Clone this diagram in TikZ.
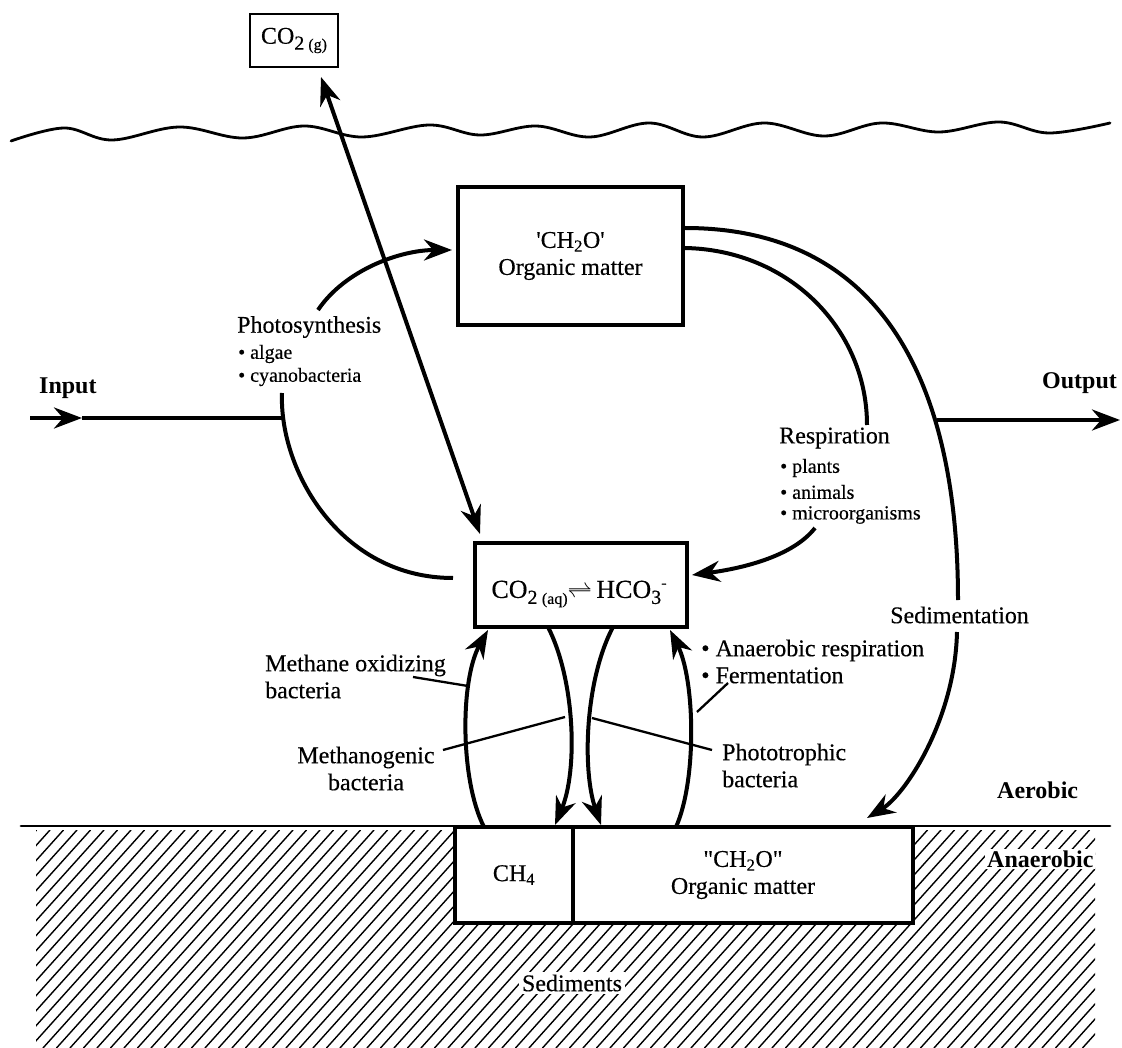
\documentclass[tikz,border=0pt]{standalone}
\usepackage{fontspec}
\setmainfont{Liberation Serif}[Ligatures=TeXOff,UprightFeatures={FakeBold=0.35}]
\usetikzlibrary{arrows.meta}
% lowered chemical subscripts: index digit and phase mark
\newcommand\subs[1]{\raisebox{-6pt}{\fontsize{20}{20}\selectfont #1}}
\newcommand\subp[1]{\raisebox{-6pt}{\fontsize{16}{16}\selectfont #1}}
\newcommand\supm{\raisebox{10pt}{\fontsize{16}{16}\selectfont -}}
\begin{document}
\begin{tikzpicture}[x=1pt,y=-1pt,
  >={Stealth[length=28pt,width=21pt,inset=9pt]},
  every node/.style={inner sep=0pt,font=\fontsize{24}{27}\selectfont},
  lbl/.style={anchor=west,align=left},
  smalllbl/.style={anchor=west,align=left,font=\fontsize{20}{23.5}\selectfont},
  boldlbl/.style={anchor=west,font=\fontsize{24}{27}\selectfont\bfseries},
  box/.style={draw,line width=3.4pt,fill=white,align=center},
  flow/.style={line width=4pt},
  leader/.style={line width=2.3pt},
  hatchline/.style={line width=1.4pt},
  surface/.style={line width=2.8pt,line cap=round},
]
\useasboundingbox (0,0) rectangle (1122,1048);

% sediment hatching below the aerobic/anaerobic boundary
\begin{scope}
  \clip (36,830) rectangle (1095,1048);
  \foreach \x in {-200,-186.5,...,1100}
    \draw[hatchline] (\x,1048) -- ++(196,-218);
\end{scope}
\draw[surface] (21,826) -- (1110,826);

% water surface
\draw[surface] plot[smooth,tension=0.6] coordinates {
  (11,141) (64,128) (112,140) (179,127) (243,138) (304,126) (362,137)
  (429,125) (480,135) (536,126) (590,137) (649,123) (703,137) (764,123)
  (824,136) (881,123) (939,132) (999,122) (1049,133) (1110,123)};

% boxes
\node[box,line width=2.8pt,minimum width=88pt,minimum height=53pt] (gas) at (294,40.5)
  {CO\subs{2}\,\subp{(g)}};
\node[box,minimum width=225pt,minimum height=138pt] (org) at (570.5,256)
  {'CH\textsubscript{2}O'\\Organic matter};
\node[box,minimum width=212pt,minimum height=84pt] (aq) at (581,585) {};
\node[font=\fontsize{26}{28}\selectfont] (aqtext) at (579,594)
  {CO\subs{2}\,\subp{(aq)}$\rightleftharpoons$\,HCO\subs{3}\supm};
\node[box,minimum width=118pt,minimum height=96pt] (ch4) at (514,875) {CH\textsubscript{4}};
\node[box,minimum width=340pt,minimum height=96pt] (sedorg) at (743,875)
  {"CH\textsubscript{2}O"\\Organic matter};

% labels
\node[lbl] (photo) at (237,327) {Photosynthesis};
\node[smalllbl] (algae) at (238,354) {\textbullet\ algae};
\node[smalllbl] (cyano) at (238,377) {\textbullet\ cyanobacteria};
\node[boldlbl] (input) at (39,388) {Input};
\node[boldlbl] (output) at (1042,383) {Output};
\node[lbl] (resp) at (779,438) {Respiration};
\node[smalllbl] (plants) at (780,468) {\textbullet\ plants};
\node[smalllbl] (animals) at (780,492) {\textbullet\ animals};
\node[smalllbl] (micro) at (780,515) {\textbullet\ microorganisms};
\node[lbl] (sedim) at (890,615) {Sedimentation};
\node[lbl] (anaer) at (701,661.5) {\textbullet\ Anaerobic respiration\\\textbullet\ Fermentation};
\node[lbl] (mox) at (265,676.5) {Methane oxidizing\\bacteria};
\node[align=center] (mgen) at (366,768.5) {Methanogenic\\bacteria};
\node[lbl] (ptro) at (722,765.5) {Phototrophic\\bacteria};
\node[boldlbl] (aerobic) at (997,790) {Aerobic};
\node[boldlbl,fill=white,inner sep=2pt] (anaerobic) at (985,859) {Anaerobic};
\node[fill=white,inner sep=3pt] (sediments) at (572,983) {Sediments};

% gas exchange across the surface
\coordinate (gtip) at (321,77);
\coordinate (atip) at (480,534);
\draw[flow,<->] (gtip) -- (atip);

% photosynthesis loop
\coordinate (ps0) at (453,578);
\coordinate (ps1) at (282,393);
\coordinate (ps2) at (318,310);
\coordinate (ps3) at (452,250);
\draw[flow] (ps0) .. controls (340,578) and (279,470) .. (ps1);
\draw[flow,->] (ps2) .. controls (345,270) and (400,250) .. (ps3);

% input and output
\coordinate (in0) at (30,418);
\coordinate (inA) at (82,418);
\coordinate (in1) at (282,418);
\draw[flow,->] (in0) -- (inA);
\draw[flow] (inA) -- (in1);
\coordinate (out0) at (937,420);
\coordinate (out1) at (1120,420);
\draw[flow,->] (out0) -- (out1);

% respiration loop
\coordinate (rs0) at (685,248);
\coordinate (rs1) at (867,425);
\coordinate (rs2) at (815,528);
\coordinate (rs3) at (692,575);
\draw[flow] (rs0) .. controls (790,250) and (867,330) .. (rs1);
\draw[flow,->] (rs2) .. controls (790,560) and (730,570) .. (rs3);

% sedimentation
\coordinate (sd0) at (685,228);
\coordinate (sd1) at (958,600);
\coordinate (sd2) at (957,632);
\coordinate (sd3) at (867,818);
\draw[flow] (sd0) .. controls (880,228) and (958,380) .. (sd1);
\draw[flow,->] (sd2) .. controls (955,720) and (905,795) .. (sd3);

% exchanges between water column and sediments
\coordinate (mo0) at (484,827);  \coordinate (mo1) at (488,630);
\coordinate (mg0) at (548,627);  \coordinate (mg1) at (555,825);
\coordinate (pt0) at (613,627);  \coordinate (pt1) at (601,825);
\coordinate (an0) at (676,827);  \coordinate (an1) at (670,630);
\draw[flow,->] (mo0) .. controls (460,780) and (460,680) .. (mo1);
\draw[flow,->] (mg0) .. controls (575,680) and (578,770) .. (mg1);
\draw[flow,->] (pt0) .. controls (585,680) and (582,770) .. (pt1);
\draw[flow,->] (an0) .. controls (697,780) and (695,680) .. (an1);

% leader lines from the labels
\coordinate (l1a) at (413,677);  \coordinate (l1b) at (468,686);
\coordinate (l2a) at (443,750);  \coordinate (l2b) at (565,717);
\coordinate (l3a) at (592,718);  \coordinate (l3b) at (712,750);
\coordinate (l4a) at (697,712);  \coordinate (l4b) at (728,683);
\draw[leader] (l1a) -- (l1b);
\draw[leader] (l2a) -- (l2b);
\draw[leader] (l3a) -- (l3b);
\draw[leader] (l4a) -- (l4b);
\end{tikzpicture}
\end{document}
